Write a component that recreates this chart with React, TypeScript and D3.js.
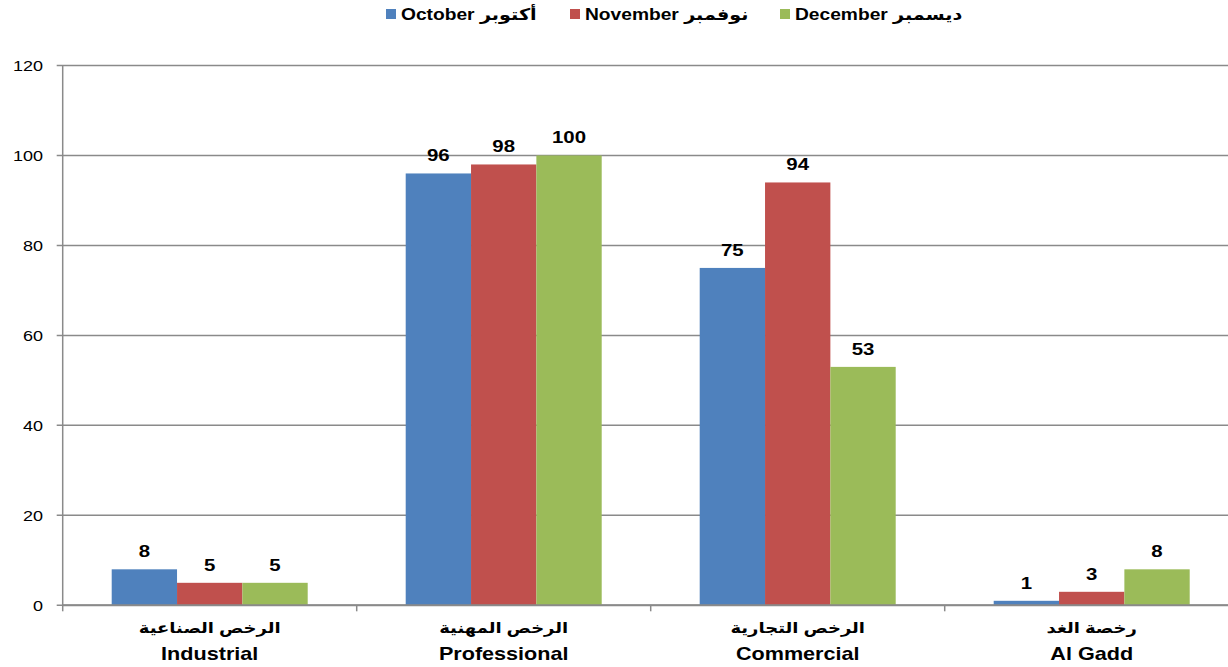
import * as d3 from 'd3'

const CATEGORIES_AR = ['الرخص الصناعية', 'الرخص المهنية', 'الرخص التجارية', 'رخصة الغد']
const CATEGORIES_EN = ['Industrial', 'Professional', 'Commercial', 'Al Gadd']
const SERIES = ['October أكتوبر', 'November نوفمبر', 'December ديسمبر']
const OCTOBER = [8, 96, 75, 1]
const NOVEMBER = [5, 98, 94, 3]
const DECEMBER = [5, 100, 53, 8]
const Y_TICKS = [0, 20, 40, 60, 80, 100, 120]

const COLORS = ['#4f81bd', '#c0504d', '#9bbb59']
const WIDTH = 1228
const HEIGHT = 667
const PLOT = { left: 62.7, right: 1238.7, top: 65.5, bottom: 605.3 }
const LEGEND_X = [386, 570, 780]
const STRETCH = 1.2
const FONT = '"Liberation Sans", Arial, "DejaVu Sans", sans-serif'

function Label({ x, y, anchor = 'middle', size, bold = true, children }: {
  x: number
  y: number
  anchor?: string
  size: number
  bold?: boolean
  children: string
}) {
  return (
    <g transform={`translate(${x},${y}) scale(${STRETCH},1)`}>
      <text textAnchor={anchor} fontSize={size} fontWeight={bold ? 'bold' : 'normal'} fontFamily={FONT} fill="#000">
        {children}
      </text>
    </g>
  )
}

export default function App() {
  const values = [OCTOBER, NOVEMBER, DECEMBER]
  const x = d3.scaleBand<number>().domain(d3.range(CATEGORIES_EN.length)).range([PLOT.left, PLOT.right])
  const inner = d3
    .scaleBand<number>()
    .domain(d3.range(SERIES.length))
    .range([0, x.bandwidth()])
    .paddingInner(0)
    .paddingOuter(0.75)
  const y = d3.scaleLinear().domain([0, 120]).range([PLOT.bottom, PLOT.top])
  const gridColor = '#8a8a8a'

  return (
    <svg width={WIDTH} height={HEIGHT} style={{ position: 'absolute', left: 0, top: 0, background: '#fff' }}>
      {/* legend */}
      {SERIES.map((name, i) => (
        <g key={name}>
          <rect x={LEGEND_X[i]} y={9} width={10} height={10} fill={COLORS[i]} />
          <Label x={LEGEND_X[i] + 15} y={20} anchor="start" size={16}>
            {name}
          </Label>
        </g>
      ))}

      {/* grid and y axis */}
      {Y_TICKS.map((t) => (
        <g key={t}>
          <line x1={PLOT.left - 6} x2={WIDTH} y1={y(t)} y2={y(t)} stroke={gridColor} strokeWidth={1.5} />
          <Label x={43} y={y(t) + 5.5} anchor="end" size={15} bold={false}>
            {String(t)}
          </Label>
        </g>
      ))}
      <line x1={PLOT.left} x2={PLOT.left} y1={PLOT.top} y2={PLOT.bottom} stroke={gridColor} strokeWidth={1.5} />
      {d3.range(CATEGORIES_EN.length + 1).map((i) => {
        const bx = PLOT.left + i * x.step()
        return <line key={i} x1={bx} x2={bx} y1={PLOT.bottom} y2={PLOT.bottom + 6} stroke={gridColor} strokeWidth={1.5} />
      })}

      {/* bars */}
      {values.map((series, s) =>
        series.map((v, c) => {
          const bx = (x(c) ?? 0) + (inner(s) ?? 0)
          return (
            <g key={`${s}-${c}`}>
              <rect x={bx} y={y(v)} width={inner.bandwidth()} height={y(0) - y(v)} fill={COLORS[s]} />
              <Label x={bx + inner.bandwidth() / 2} y={y(v) - 12} size={17}>
                {String(v)}
              </Label>
            </g>
          )
        })
      )}
      <line x1={PLOT.left} x2={WIDTH} y1={PLOT.bottom} y2={PLOT.bottom} stroke={gridColor} strokeWidth={2} />

      {/* category labels */}
      {CATEGORIES_EN.map((name, c) => {
        const cx = (x(c) ?? 0) + x.bandwidth() / 2
        return (
          <g key={name}>
            <Label x={cx} y={633} size={15}>
              {CATEGORIES_AR[c]}
            </Label>
            <Label x={cx} y={660} size={18}>
              {name}
            </Label>
          </g>
        )
      })}
    </svg>
  )
}
